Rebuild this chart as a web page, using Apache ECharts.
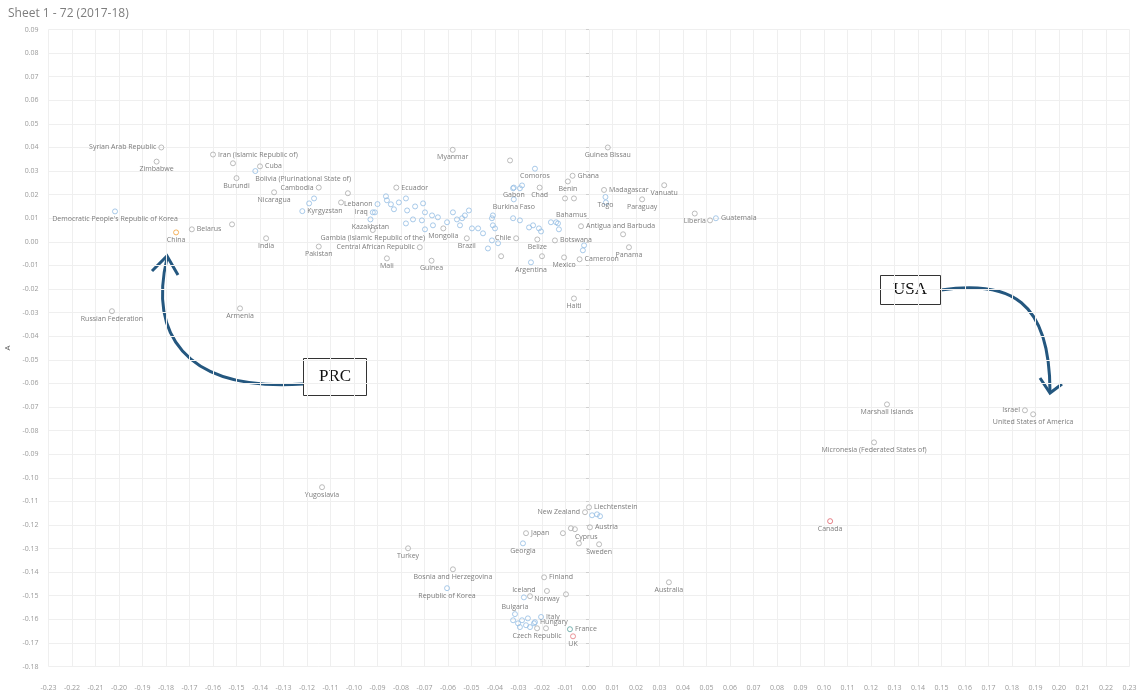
<!DOCTYPE html>
<html>
<head>
<meta charset="utf-8">
<title>Sheet 1 - 72 (2017-18)</title>
<script src="https://cdn.jsdelivr.net/npm/echarts@6/dist/echarts.min.js"></script>
<style>
  html, body { margin: 0; padding: 0; background: #ffffff; }
  #chart { width: 1141px; height: 700px; }
</style>
</head>
<body>
<div id="chart"></div>
<script>
// ---- data: named countries (x = B, y = A) ----
const countries = [
  'Syrian Arab Republic', 'Zimbabwe', 'Iran (Islamic Republic of)', 'Cuba',
  'Bolivia (Plurinational State of)', 'Burundi', 'Nicaragua', 'Cambodia',
  'Kyrgyzstan', 'Lebanon', 'Iraq', 'Kazakhstan', 'Gambia (Islamic Republic of the)',
  'Central African Republic', 'Pakistan', 'Mali', 'Guinea', 'Mongolia', 'Brazil',
  'Chile', 'Myanmar', 'Ecuador', 'Gabon', 'Burkina Faso', 'Comoros', 'Ghana',
  'Benin', 'Chad', 'Madagascar', 'Vanuatu', 'Togo', 'Paraguay', 'Liberia',
  'Guatemala', 'Guinea Bissau', 'Bahamus', 'Antigua and Barbuda', 'Botswana',
  'Belize', 'Cameroon', 'Panama', 'Mexico', 'Argentina', 'Haiti',
  "Democratic People's Republic of Korea", 'China', 'Belarus', 'India',
  'Russian Federation', 'Armenia', 'Yugoslavia', 'Marshall Islands', 'Israel',
  'United States of America', 'Micronesia (Federated States of)', 'Canada',
  'Liechtenstein', 'New Zealand', 'Austria', 'Japan', 'Cyprus', 'Sweden',
  'Georgia', 'Turkey', 'Bosnia and Herzegovina', 'Republic of Korea', 'Finland',
  'Iceland', 'Norway', 'Bulgaria', 'Italy', 'Hungary', 'France',
  'Czech Republic', 'UK', 'Australia'
];
const countryX = [
  -0.182, -0.184, -0.160, -0.140,
  -0.142, -0.150, -0.134, -0.115,
  -0.122, -0.090, -0.092, -0.093, -0.092,
  -0.072, -0.115, -0.086, -0.067, -0.062, -0.052,
  -0.031, -0.058, -0.082, -0.032, -0.032, -0.023, -0.007,
  -0.009, -0.021, 0.0064, 0.032, 0.007, 0.0226, 0.045,
  0.054, 0.008, -0.014, -0.0034, -0.0145,
  -0.022, -0.004, 0.017, -0.0106, -0.0247, -0.0064,
  -0.2017, -0.1757, -0.169, -0.1374,
  -0.203, -0.1485, -0.1136, 0.1268, 0.1855,
  0.189, 0.1213, 0.1026,
  0.000, -0.0017, 0.0004, -0.0268, -0.006, 0.0043,
  -0.0281, -0.077, -0.0579, -0.0604, -0.0191,
  -0.0277, -0.0179, -0.0315, -0.0204, -0.023, -0.0081,
  -0.0221, -0.0068, 0.034
];
const countryY = [
  0.040, 0.034, 0.037, 0.032,
  0.030, 0.027, 0.021, 0.023,
  0.013, 0.016, 0.0125, 0.0095, 0.005,
  -0.0023, -0.002, -0.007, -0.008, 0.0057, 0.0015,
  0.0015, 0.039, 0.023, 0.023, 0.018, 0.031, 0.028,
  0.0256, 0.023, 0.022, 0.024, 0.019, 0.018, 0.012,
  0.010, 0.040, 0.0083, 0.0066, 0.0006,
  0.001, -0.0074, -0.0023, -0.0066, -0.0087, -0.024,
  0.0129, 0.004, 0.0053, 0.0015,
  -0.0294, -0.0282, -0.104, -0.0689, -0.0714,
  -0.0731, -0.085, -0.1184,
  -0.1125, -0.1146, -0.121, -0.1235, -0.1218, -0.1282,
  -0.1278, -0.1299, -0.1388, -0.1468, -0.1422,
  -0.1507, -0.148, -0.1578, -0.159, -0.1612, -0.1642,
  -0.1638, -0.1672, -0.1443
];

// ---- data: unnamed countries ----
const otherX = [-0.1515, -0.1519, -0.0336, 0.0145, -0.0374, -0.020, -0.0102, -0.0064,
  0.0515, -0.1055, -0.1026, -0.0111, -0.0077, -0.0043, -0.0098, -0.0183, -0.0251];
const otherY = [0.0333, 0.0074, 0.0345, 0.0032, -0.0061, -0.0061, 0.0184, 0.0184,
  0.0091, 0.0167, 0.0206, -0.1235, -0.1214, -0.1278, -0.1494, -0.1638, -0.1502];

const clusterX = [-0.1191, -0.117, -0.0911, -0.0864, -0.086, -0.0843, -0.083, -0.0809,
  -0.0779, -0.0774, -0.074, -0.0749, -0.0779, -0.0706, -0.0698, -0.0668, -0.0711,
  -0.0698, -0.0664, -0.0643, -0.0604, -0.0579, -0.0562, -0.054, -0.0528, -0.0511,
  -0.0549, -0.0498, -0.0472, -0.0451, -0.0409, -0.0409, -0.043, -0.0387, -0.0413,
  -0.040, -0.0413, -0.0323, -0.0294, -0.0255, -0.0238, -0.0213, -0.0204, -0.0162,
  -0.0132, -0.0128, -0.0323, -0.0285, -0.0294, -0.0021, -0.0026, 0.0072,
  0.0013, 0.0034, 0.0047, -0.0323, -0.0302, -0.0285, -0.0268, -0.0251, -0.0294,
  -0.026, -0.0234];
const clusterY = [0.0163, 0.0184, 0.0125, 0.0193, 0.0176, 0.0159, 0.0138, 0.0167,
  0.0184, 0.0133, 0.015, 0.0095, 0.0078, 0.0163, 0.0125, 0.0112, 0.0091,
  0.0053, 0.007, 0.0104, 0.0083, 0.0125, 0.0095, 0.010, 0.0112, 0.0133,
  0.007, 0.0057, 0.0057, 0.0036, 0.0112, 0.007, -0.0028, -0.0006, 0.010,
  0.0057, 0.0006, 0.010, 0.0091, 0.0061, 0.007, 0.0057, 0.0044, 0.0083,
  0.0078, 0.0053, 0.0227, 0.0239, 0.0227, -0.0015, -0.0036, 0.0167,
  -0.1159, -0.1155, -0.1163, -0.1604, -0.1617, -0.1604, -0.1625, -0.1633, -0.1633,
  -0.1596, -0.1617];

// ---- axis tick range ----
const xTickMin = -0.23, xTickMax = 0.23;
const yTickMin = -0.18, yTickMax = 0.09;

// ---- presentation ----
const GREY = '#ababab';
const BLUE = '#94bde3';
const LABEL_COLOR = '#5a5a5a';
const FONT = '"Open Sans", "DejaVu Sans", sans-serif';

const blueMarked = new Set(['Bolivia (Plurinational State of)', 'Kyrgyzstan', 'Lebanon', 'Iraq',
  'Kazakhstan', 'Georgia', 'Republic of Korea', 'Iceland', 'Argentina', 'Guatemala', 'Togo',
  'Comoros', 'Gabon', 'Burkina Faso', 'Bahamus', 'Bulgaria', 'Hungary', 'Italy',
  "Democratic People's Republic of Korea"]);
const highlight = { 'China': '#f2a13a', 'Canada': '#e0626a', 'UK': '#e47a80', 'France': '#5aa3a0' };

// label side for each named mark: b=below, t=above, l=left, r=right, br/tr = below/above, running right
const labelSide = {
  'Syrian Arab Republic': 'l', 'Iran (Islamic Republic of)': 'r', 'Cuba': 'r',
  'Bolivia (Plurinational State of)': 'br', 'Cambodia': 'l', 'Kyrgyzstan': 'r',
  'Lebanon': 'l', 'Iraq': 'l', 'Central African Republic': 'l', 'Chile': 'l',
  'Ecuador': 'r', 'Ghana': 'r', 'Madagascar': 'r', 'Guatemala': 'r', 'Bahamus': 'tr',
  'Antigua and Barbuda': 'r', 'Botswana': 'r', 'Cameroon': 'r', 'Belarus': 'r',
  'Israel': 'l', 'Liechtenstein': 'r', 'New Zealand': 'l', 'Austria': 'r', 'Japan': 'r',
  'Cyprus': 'br', 'Finland': 'r', 'Iceland': 't', 'Bulgaria': 't', 'Italy': 'r',
  'Hungary': 'r', 'France': 'r'
};

function labelFor(side) {
  const base = { show: true, formatter: '{b}', color: LABEL_COLOR, fontSize: 7, fontFamily: FONT, distance: 2 };
  switch (side) {
    case 'l': return Object.assign(base, { position: 'left' });
    case 'r': return Object.assign(base, { position: 'right' });
    case 't': return Object.assign(base, { position: 'top', distance: 1 });
    case 'br': return Object.assign(base, { position: 'bottom', align: 'left', distance: 1 });
    case 'tr': return Object.assign(base, { position: 'top', align: 'left', distance: 1 });
    default: return Object.assign(base, { position: 'bottom', distance: 1 });
  }
}

const namedData = countries.map((name, i) => ({
  name,
  value: [countryX[i], countryY[i]],
  itemStyle: { borderColor: highlight[name] || (blueMarked.has(name) ? BLUE : GREY) },
  label: labelFor(labelSide[name] || 'b')
}));
const otherData = otherX.map((x, i) => [x, otherY[i]]);
const clusterData = clusterX.map((x, i) => [x, clusterY[i]]);

const markStyle = { color: 'rgba(255,255,255,0)', borderWidth: 1 };
const axisLabelStyle = {
  color: '#9a9a9a', fontSize: 7, fontFamily: FONT,
  formatter: v => (Math.round(v * 100) / 100).toFixed(2)
};

// hand-drawn style callouts
const ARROW = '#24577f';
const graphics = [
  {
    type: 'bezierCurve', silent: true,
    shape: { x1: 303, y1: 384, cpx1: 180, cpy1: 392, cpx2: 150, cpy2: 330, x2: 167, y2: 258 },
    style: { stroke: ARROW, lineWidth: 3, fill: null }
  },
  {
    type: 'polyline', silent: true,
    shape: { points: [[152, 271], [167, 256], [178, 275]] },
    style: { stroke: ARROW, lineWidth: 3, fill: null }
  },
  {
    type: 'rect', silent: true,
    shape: { x: 303.5, y: 358.5, width: 63, height: 37 },
    style: { fill: '#fff', stroke: '#333', lineWidth: 1 }
  },
  {
    type: 'text', silent: true, x: 335, y: 377,
    style: { text: 'PRC', fill: '#111', font: '17px "Liberation Serif", "DejaVu Serif", serif', align: 'center', verticalAlign: 'middle' }
  },
  {
    type: 'bezierCurve', silent: true,
    shape: { x1: 941, y1: 290, cpx1: 1010, cpx2: 1050, cpy1: 280, cpy2: 300, x2: 1050, y2: 392 },
    style: { stroke: ARROW, lineWidth: 3, fill: null }
  },
  {
    type: 'polyline', silent: true,
    shape: { points: [[1040, 378], [1050, 393], [1062, 384]] },
    style: { stroke: ARROW, lineWidth: 3, fill: null }
  },
  {
    type: 'rect', silent: true,
    shape: { x: 880.5, y: 275.5, width: 60, height: 29 },
    style: { fill: '#fff', stroke: '#333', lineWidth: 1 }
  },
  {
    type: 'text', silent: true, x: 910, y: 290,
    style: { text: 'USA', fill: '#111', font: '17px "Liberation Serif", "DejaVu Serif", serif', align: 'center', verticalAlign: 'middle' }
  }
];

const chart = echarts.init(document.getElementById('chart'), null, { renderer: 'canvas' });
chart.setOption({
  animation: false,
  backgroundColor: '#ffffff',
  title: {
    text: 'Sheet 1 - 72 (2017-18)', left: 3, top: 3,
    textStyle: { color: '#7d7d7d', fontSize: 12, fontWeight: 'normal', fontFamily: FONT }
  },
  grid: { left: 48.5, right: 11.5, top: 29.5, bottom: 33.5, containLabel: false, outerBoundsMode: 'none' },
  xAxis: {
    type: 'value', min: xTickMin, max: xTickMax, interval: 0.01,
    name: 'B', nameLocation: 'middle', nameGap: 33,
    nameTextStyle: { color: '#666', fontSize: 8, fontFamily: FONT },
    axisLine: { show: false },
    axisTick: { show: false },
    axisLabel: Object.assign({ margin: 18 }, axisLabelStyle),
    splitLine: { show: true, lineStyle: { color: '#efefef', width: 1 } }
  },
  yAxis: {
    type: 'value', min: yTickMin, max: yTickMax, interval: 0.01,
    name: 'A', nameLocation: 'middle', nameGap: 31, nameRotate: 90,
    nameTextStyle: { color: '#555', fontSize: 8, fontFamily: FONT },
    axisLine: { show: false },
    axisTick: { show: true, length: 3, lineStyle: { color: '#d0d0d0' } },
    axisLabel: Object.assign({ margin: 10 }, axisLabelStyle),
    splitLine: { show: true, lineStyle: { color: '#efefef', width: 1 } }
  },
  series: [
    {
      name: 'Other', type: 'scatter', symbol: 'circle', symbolSize: 5,
      data: otherData, itemStyle: Object.assign({ borderColor: GREY }, markStyle), silent: true
    },
    {
      name: 'Cluster', type: 'scatter', symbol: 'circle', symbolSize: 5,
      data: clusterData, itemStyle: Object.assign({ borderColor: BLUE }, markStyle), silent: true
    },
    {
      name: 'Countries', type: 'scatter', symbol: 'circle', symbolSize: 5,
      data: namedData, itemStyle: markStyle, silent: true
    }
  ],
  graphic: graphics
});
</script>
</body>
</html>
